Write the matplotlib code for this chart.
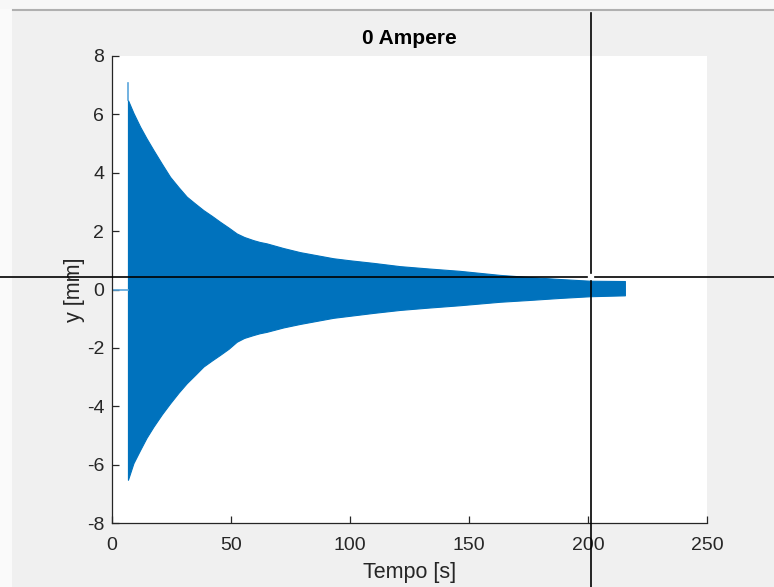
import numpy as np
import matplotlib.pyplot as plt
from matplotlib.lines import Line2D
from matplotlib.patches import Rectangle

plt.rcParams['font.family'] = ['Liberation Sans', 'DejaVu Sans']
plt.rcParams['axes.unicode_minus'] = False

# envelope of the displacement signal (mm) vs time (s)
t_env = [6.7, 9, 11.8, 14.5, 17.4, 21, 24.4, 28, 31.4, 35, 38.4, 42, 45.4,
         49, 52.4, 55.5, 59.4, 62, 65, 72, 79, 93, 100, 110, 121, 133, 146,
         163, 175, 188, 201, 215.5]
y_upper = [6.49, 6.05, 5.58, 5.18, 4.78, 4.30, 3.86, 3.50, 3.18, 2.94, 2.72,
           2.52, 2.32, 2.12, 1.92, 1.80, 1.69, 1.63, 1.58, 1.42, 1.28, 1.07,
           1.00, 0.91, 0.80, 0.72, 0.64, 0.50, 0.43, 0.36, 0.30, 0.29]
y_lower = [-6.52, -5.95, -5.50, -5.08, -4.70, -4.27, -3.90, -3.53, -3.21,
           -2.92, -2.64, -2.43, -2.24, -2.03, -1.79, -1.66, -1.56, -1.50,
           -1.45, -1.30, -1.18, -0.97, -0.90, -0.80, -0.70, -0.62, -0.54,
           -0.42, -0.36, -0.29, -0.23, -0.20]

# release spike and the resting signal before release
t_spike = [6.7, 6.7]
y_spike = [6.49, 7.08]
t_rest = [0, 6.7]
y_rest = [0.0, 0.0]

# data cursor position
cursor_t = 201.3
cursor_y = 0.43

xticks = [0, 50, 100, 150, 200, 250]
yticks = [-8, -6, -4, -2, 0, 2, 4, 6, 8]

blue = '#0072BD'
light_blue = '#5aa6dc'
txt = '#262626'

fig = plt.figure(figsize=(7.74, 5.87), dpi=100, facecolor='#f0f0f0')
W, H = 774, 587

# window chrome: light strip on top and left, separator line
fig.add_artist(Rectangle((0, 1 - 9 / H), 1, 9 / H, transform=fig.transFigure,
                         facecolor='#f7f7f7', edgecolor='none', zorder=0))
fig.add_artist(Line2D([13 / W, 1], [1 - 10 / H, 1 - 10 / H], transform=fig.transFigure,
                      color='#b0b0b0', lw=1.5, zorder=1))
fig.add_artist(Rectangle((0, 0), 12 / W, 1 - 9 / H, transform=fig.transFigure,
                         facecolor='#fafafa', edgecolor='none', zorder=0))

ax = fig.add_axes([112 / W, 1 - 523 / H, 595 / W, 467 / H])
ax.set_facecolor('white')

ax.fill_between(t_env, y_lower, y_upper, color=blue, lw=0.8, edgecolor=blue)
ax.plot(t_spike, y_spike, color=light_blue, lw=1.2)
ax.plot(t_rest, y_rest, color=light_blue, lw=1.2)

ax.set_xlim(0, 250)
ax.set_ylim(-8, 8)
ax.set_xticks(xticks)
ax.set_yticks(yticks)
for s in ['top', 'right']:
    ax.spines[s].set_visible(False)
for s in ['left', 'bottom']:
    ax.spines[s].set_color(txt)
    ax.spines[s].set_linewidth(0.9)
ax.tick_params(axis='both', direction='in', length=5, width=0.9, color=txt,
               labelcolor=txt, labelsize=14)
ax.tick_params(axis='x', pad=10)
ax.tick_params(axis='y', pad=5.5)

ax.set_title('0 Ampere', fontsize=15, fontweight='bold', color='black', pad=9)
ax.set_xlabel('Tempo [s]', fontsize=15.5, color=txt, labelpad=6)
ax.set_ylabel('y [mm]', fontsize=15.5, color=txt, labelpad=1)

# crosshair from the data cursor, spanning the whole window
fig.canvas.draw()
px, py = ax.transData.transform((cursor_t, cursor_y))
gap = 4
cx, cy = px / W, py / H
g_x, g_y = gap / W, gap / H
top = 1 - 13 / H
fig.add_artist(Line2D([cx, cx], [cy + g_y, top], transform=fig.transFigure,
                      color='black', lw=1.2, zorder=5))
fig.add_artist(Line2D([cx, cx], [0, cy - g_y], transform=fig.transFigure,
                      color='black', lw=1.2, zorder=5))
fig.add_artist(Line2D([0, cx - g_x], [cy, cy], transform=fig.transFigure,
                      color='black', lw=1.2, zorder=5))
fig.add_artist(Line2D([cx + g_x, 1], [cy, cy], transform=fig.transFigure,
                      color='black', lw=1.2, zorder=5))

fig.savefig('out.png', dpi=100, facecolor=fig.get_facecolor())
